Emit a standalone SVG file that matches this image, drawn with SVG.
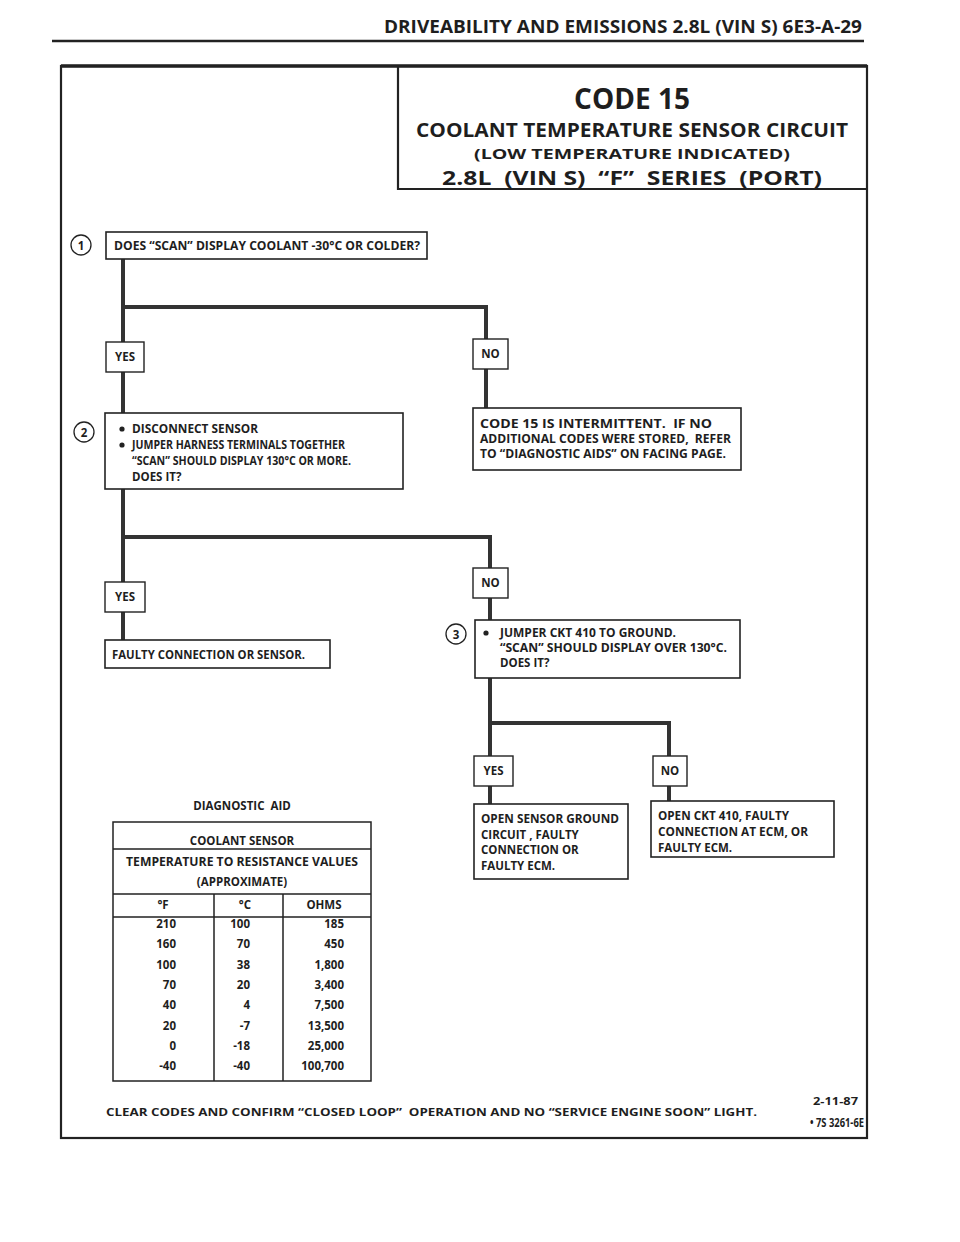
<svg xmlns="http://www.w3.org/2000/svg" width="960" height="1242" viewBox="0 0 960 1242">
<style>
text{font-family:"Open Sans","Liberation Sans",sans-serif;font-weight:700;fill:#1e1e1e;white-space:pre}
.t{font-size:11.5px}
.s{font-size:11px}
.c{text-anchor:middle}
.r{text-anchor:end}
.box{fill:#fff;stroke:#222;stroke-width:1.6}
.lbl{fill:#fff;stroke:#222;stroke-width:1.4}
.conn{fill:none;stroke:#333;stroke-width:4;stroke-linecap:square}
.frame{fill:none;stroke:#222;stroke-width:2.2}
.circ{fill:#fff;stroke:#222;stroke-width:1.3}
.grid{stroke:#222;stroke-width:1.5;fill:none}
</style>
<rect width="960" height="1242" fill="#fff"/>
<g id="header">
<text x="862" y="33" class="r" style="font-size:17px" textLength="478" lengthAdjust="spacingAndGlyphs">DRIVEABILITY AND EMISSIONS 2.8L (VIN S) 6E3-A-29</text>
<line x1="52" y1="41" x2="864" y2="41" stroke="#222" stroke-width="2.6"/>
</g>
<g id="frame">
<rect x="61" y="66" width="806" height="1072" class="frame"/>
<line x1="61" y1="66" x2="867" y2="66" stroke="#222" stroke-width="3.4"/>
</g>
<g id="title">
<path d="M398 66 V189 H867" class="frame"/>
<text x="632" y="109" class="c" style="font-size:28px">CODE 15</text>
<text x="632" y="137" class="c" style="font-size:19.5px" textLength="432" lengthAdjust="spacingAndGlyphs">COOLANT TEMPERATURE SENSOR CIRCUIT</text>
<text x="632" y="159" class="c" style="font-size:14.5px" textLength="316" lengthAdjust="spacingAndGlyphs">(LOW TEMPERATURE INDICATED)</text>
<text x="632" y="185" class="c" style="font-size:20px" textLength="380" lengthAdjust="spacingAndGlyphs">2.8L  (VIN S)  “F”  SERIES  (PORT)</text>
</g>
<g id="connectors">
<path class="conn" d="M123 259 V342 M123 372 V413 M123 307 H486 V339 M486 369 V408"/>
<path class="conn" d="M123 489 V582 M123 612 V640 M123 537 H490 V568 M490 598 V620"/>
<path class="conn" d="M490 678 V756 M490 786 V804 M490 723 H669 V756 M669 786 V801"/>
</g>
<g id="step1">
<circle cx="81" cy="245" r="10" class="circ"/>
<text x="81" y="249.5" class="c t">1</text>
<rect x="106" y="232" width="321" height="27" class="box"/>
<text x="114" y="250" class="t" textLength="306" lengthAdjust="spacingAndGlyphs">DOES “SCAN” DISPLAY COOLANT -30°C OR COLDER?</text>
</g>
<g id="yes1">
<rect x="106" y="342" width="38" height="30" class="lbl"/>
<text x="125" y="361" class="c t">YES</text>
</g>
<g id="no1">
<rect x="473" y="339" width="35" height="30" class="lbl"/>
<text x="490.5" y="358" class="c t">NO</text>
</g>
<g id="intermittent">
<rect x="473" y="408" width="268" height="62" class="box"/>
<text x="480" y="428" class="t" textLength="232" lengthAdjust="spacingAndGlyphs">CODE 15 IS INTERMITTENT.  IF NO</text>
<text x="480" y="443" class="t" textLength="251" lengthAdjust="spacingAndGlyphs">ADDITIONAL CODES WERE STORED,  REFER</text>
<text x="480" y="458" class="t" textLength="246" lengthAdjust="spacingAndGlyphs">TO “DIAGNOSTIC AIDS” ON FACING PAGE.</text>
</g>
<g id="step2">
<circle cx="84" cy="432" r="10" class="circ"/>
<text x="84" y="436.5" class="c t">2</text>
<rect x="105" y="413" width="298" height="76" class="box"/>
<circle cx="122" cy="429" r="2.6" fill="#222"/>
<circle cx="122" cy="445" r="2.6" fill="#222"/>
<text x="132" y="433" class="t" textLength="126" lengthAdjust="spacingAndGlyphs">DISCONNECT SENSOR</text>
<text x="132" y="449" class="t" textLength="213" lengthAdjust="spacingAndGlyphs">JUMPER HARNESS TERMINALS TOGETHER</text>
<text x="132" y="465" class="t" textLength="219" lengthAdjust="spacingAndGlyphs">“SCAN” SHOULD DISPLAY 130°C OR MORE.</text>
<text x="132" y="481" class="t">DOES IT?</text>
</g>
<g id="yes2">
<rect x="105" y="582" width="40" height="30" class="lbl"/>
<text x="125" y="601" class="c t">YES</text>
</g>
<g id="faulty">
<rect x="105" y="640" width="225" height="28" class="box"/>
<text x="112" y="659" class="t" textLength="193" lengthAdjust="spacingAndGlyphs">FAULTY CONNECTION OR SENSOR.</text>
</g>
<g id="no2">
<rect x="473" y="568" width="35" height="30" class="lbl"/>
<text x="490.5" y="587" class="c t">NO</text>
</g>
<g id="step3">
<circle cx="456" cy="634" r="10" class="circ"/>
<text x="456" y="638.5" class="c t">3</text>
<rect x="475" y="620" width="265" height="58" class="box"/>
<circle cx="486" cy="633" r="2.6" fill="#222"/>
<text x="500" y="637" class="t" textLength="176" lengthAdjust="spacingAndGlyphs">JUMPER CKT 410 TO GROUND.</text>
<text x="500" y="652" class="t" textLength="227" lengthAdjust="spacingAndGlyphs">“SCAN” SHOULD DISPLAY OVER 130°C.</text>
<text x="500" y="667" class="t">DOES IT?</text>
</g>
<g id="yes3">
<rect x="474" y="756" width="39" height="30" class="lbl"/>
<text x="493.5" y="775" class="c t">YES</text>
</g>
<g id="no3">
<rect x="653" y="756" width="34" height="30" class="lbl"/>
<text x="670" y="775" class="c t">NO</text>
</g>
<g id="openground">
<rect x="474" y="804" width="154" height="75" class="box"/>
<text x="481" y="823" class="t" textLength="138" lengthAdjust="spacingAndGlyphs">OPEN SENSOR GROUND</text>
<text x="481" y="838.5" class="t">CIRCUIT , FAULTY</text>
<text x="481" y="854" class="t">CONNECTION OR</text>
<text x="481" y="869.5" class="t">FAULTY ECM.</text>
</g>
<g id="openckt">
<rect x="651" y="801" width="183" height="56" class="box"/>
<text x="658" y="820" class="t" textLength="131" lengthAdjust="spacingAndGlyphs">OPEN CKT 410, FAULTY</text>
<text x="658" y="836" class="t" textLength="150" lengthAdjust="spacingAndGlyphs">CONNECTION AT ECM, OR</text>
<text x="658" y="852" class="t">FAULTY ECM.</text>
</g>
<g id="diagnostic-aid">
<text x="242" y="810" class="c t">DIAGNOSTIC  AID</text>
<rect x="113" y="822" width="258" height="259" class="grid"/>
<path class="grid" d="M113 849 H371 M113 894 H371 M113 917 H371 M214 894 V1081 M283 894 V1081"/>
<text x="242" y="845" class="c t">COOLANT SENSOR</text>
<text x="242" y="866" class="c t" textLength="232" lengthAdjust="spacingAndGlyphs">TEMPERATURE TO RESISTANCE VALUES</text>
<text x="242" y="886" class="c t">(APPROXIMATE)</text>
<text x="163" y="909" class="c t">°F</text>
<text x="245" y="909" class="c t">°C</text>
<text x="324" y="909" class="c t">OHMS</text>
<g class="t">
<text x="176" y="928" class="r t">210</text><text x="250" y="928" class="r t">100</text><text x="344" y="928" class="r t">185</text>
<text x="176" y="948.3" class="r t">160</text><text x="250" y="948.3" class="r t">70</text><text x="344" y="948.3" class="r t">450</text>
<text x="176" y="968.6" class="r t">100</text><text x="250" y="968.6" class="r t">38</text><text x="344" y="968.6" class="r t">1,800</text>
<text x="176" y="988.9" class="r t">70</text><text x="250" y="988.9" class="r t">20</text><text x="344" y="988.9" class="r t">3,400</text>
<text x="176" y="1009.2" class="r t">40</text><text x="250" y="1009.2" class="r t">4</text><text x="344" y="1009.2" class="r t">7,500</text>
<text x="176" y="1029.5" class="r t">20</text><text x="250" y="1029.5" class="r t">-7</text><text x="344" y="1029.5" class="r t">13,500</text>
<text x="176" y="1049.8" class="r t">0</text><text x="250" y="1049.8" class="r t">-18</text><text x="344" y="1049.8" class="r t">25,000</text>
<text x="176" y="1070.1" class="r t">-40</text><text x="250" y="1070.1" class="r t">-40</text><text x="344" y="1070.1" class="r t">100,700</text>
</g>
</g>
<g id="footer">
<text x="106" y="1116" class="s" textLength="651" lengthAdjust="spacingAndGlyphs">CLEAR CODES AND CONFIRM “CLOSED LOOP”  OPERATION AND NO “SERVICE ENGINE SOON” LIGHT.</text>
<text x="813" y="1105" class="s" textLength="45" lengthAdjust="spacingAndGlyphs">2-11-87</text>
<text x="810" y="1127" style="font-size:11.5px" textLength="54" lengthAdjust="spacingAndGlyphs">• 7S 3261-6E</text>
</g>
</svg>
